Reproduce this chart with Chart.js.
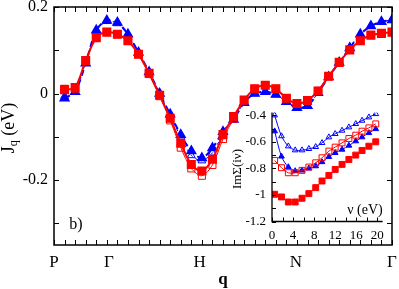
<!DOCTYPE html>
<html>
<head>
<meta charset="utf-8">
<script src="https://cdn.jsdelivr.net/npm/chart.js@4.4.1/dist/chart.umd.min.js"></script>
<style>
  html, body { margin: 0; padding: 0; background: #fff; }
  #caja { position: relative; width: 399px; height: 289px; }
  #caja canvas { position: absolute; left: 0; top: 0; }
</style>
</head>
<body>
<div id="caja">
  <canvas id="graficoPrincipal" width="399" height="289"></canvas>
  <canvas id="graficoInset" width="399" height="289"></canvas>
</div>
<script>
// Datos del panel principal: J_q a lo largo del camino P-Γ-H-N-Γ
const qPos = [1, 2, 3, 4, 5, 6, 7, 8, 9, 10, 11, 12, 13, 14, 15, 16,
              17, 18, 19, 20, 21, 22, 23, 24, 25, 26, 27, 28, 29, 30, 31, 32];
const jRojoLleno = [0.009, 0.014, 0.076, 0.129, 0.142, 0.137, 0.122, 0.091, 0.047, -0.004, -0.057, -0.115,
                    -0.164, -0.179, -0.152, -0.095, -0.053, -0.015, 0.011, 0.019, 0.011, -0.011, -0.023, -0.016,
                    0.006, 0.040, 0.072, 0.101, 0.122, 0.135, 0.139, 0.142];
const jRojoAbierto = [0.011, 0.011, 0.076, 0.129, 0.142, 0.137, 0.122, 0.091, 0.045, -0.006, -0.062, -0.125,
                      -0.173, -0.190, -0.165, -0.105, -0.058, -0.016, 0.011, 0.019, 0.011, -0.011, -0.023, -0.016,
                      0.006, 0.040, 0.072, 0.101, 0.122, 0.135, 0.139, 0.142];
const jAzulLleno = [-0.011, 0.004, 0.070, 0.146, 0.169, 0.164, 0.137, 0.095, 0.050, 0.000, -0.048, -0.095,
                    -0.133, -0.149, -0.126, -0.088, -0.060, -0.021, 0.000, 0.004, -0.002, -0.019, -0.033, -0.028,
                    0.002, 0.038, 0.072, 0.105, 0.137, 0.156, 0.166, 0.170];
const jAzulAbierto = [-0.006, 0.006, 0.072, 0.144, 0.167, 0.162, 0.136, 0.095, 0.050, 0.000, -0.050, -0.100,
                      -0.143, -0.155, -0.137, -0.093, -0.060, -0.021, 0.000, 0.004, -0.002, -0.019, -0.033, -0.028,
                      0.002, 0.038, 0.072, 0.107, 0.137, 0.156, 0.166, 0.170];
const qEtiquetas = ['P', 'Γ', 'H', 'N', 'Γ'];
const qEtiquetasPos = [0, 5.2, 13.8, 22.9, 32];
const jTicks = [-0.2, 0, 0.2];

// Datos del recuadro: ImΣ(iν) frente a ν
const nu = [0.5, 1.8, 3.1, 4.4, 5.7, 7.0, 8.3, 9.5, 10.8, 12.0, 13.3, 14.6, 15.9, 17.1, 18.4, 19.7];
const imRojoLleno = [-0.995, -1.015, -1.053, -1.053, -1.025, -0.990, -0.945, -0.895,
                     -0.853, -0.808, -0.770, -0.733, -0.700, -0.665, -0.633, -0.600];
const imRojoAbierto = [-0.740, -0.795, -0.833, -0.833, -0.815, -0.790, -0.758, -0.720,
                       -0.670, -0.640, -0.608, -0.575, -0.550, -0.520, -0.495, -0.465];
const imAzulLleno = [-0.520, -0.710, -0.790, -0.820, -0.815, -0.800, -0.783, -0.752,
                     -0.713, -0.683, -0.658, -0.628, -0.595, -0.565, -0.533, -0.503];
const imAzulAbierto = [-0.400, -0.557, -0.633, -0.663, -0.663, -0.653, -0.638, -0.608,
                       -0.565, -0.540, -0.515, -0.490, -0.465, -0.440, -0.415, -0.390];
const nuTicks = [0, 4, 8, 12, 16, 20];
const imTicks = [-1.2, -1, -0.8, -0.6, -0.4];

const fuente = "'Liberation Serif', 'DejaVu Serif', serif";
const ROJO = 'rgb(255, 0, 0)';
const AZUL = 'rgb(0, 0, 255)';
const VACIO = 'rgba(0, 0, 0, 0)';

const puntos = (xs, ys) => xs.map((x, i) => ({ x: x, y: ys[i] }));

// Marco con marcas hacia dentro y textos sueltos
const marcoPlugin = {
    id: 'marco',
    afterDraw(chart, args, o) {
        const ctx = chart.ctx;
        const a = chart.chartArea;
        const sx = chart.scales.x, sy = chart.scales.y;
        ctx.save();
        ctx.strokeStyle = '#000';
        ctx.lineWidth = o.grosor;
        ctx.beginPath();
        ctx.moveTo(a.left, a.top);
        ctx.lineTo(a.left, a.bottom);
        ctx.lineTo(a.right, a.bottom);
        if (o.cerrado) {
            ctx.lineTo(a.right, a.top);
            ctx.closePath();
        }
        ctx.stroke();
        ctx.lineWidth = 1;
        ctx.beginPath();
        for (let v = sx.min; v <= o.xHasta + 1e-6; v += o.xPaso) {
            const px = Math.round(sx.getPixelForValue(v)) + 0.5;
            ctx.moveTo(px, a.bottom); ctx.lineTo(px, a.bottom - o.largo);
            if (o.cerrado) { ctx.moveTo(px, a.top); ctx.lineTo(px, a.top + o.largo); }
        }
        for (let v = o.yDesde; v <= sy.max + 1e-6; v += o.yPaso) {
            const py = Math.round(sy.getPixelForValue(v)) + 0.5;
            ctx.moveTo(a.left, py); ctx.lineTo(a.left + o.largo, py);
            if (o.cerrado) { ctx.moveTo(a.right, py); ctx.lineTo(a.right - o.largo, py); }
        }
        ctx.stroke();
        ctx.fillStyle = '#000';
        for (const t of o.textos) {
            ctx.save();
            ctx.translate(t.x, t.y);
            if (t.rot) ctx.rotate(t.rot);
            ctx.textBaseline = 'middle';
            let ancho = 0;
            for (const p of t.partes) {
                ctx.font = (p.negrita ? 'bold ' : '') + p.tam + 'px ' + fuente;
                ancho += ctx.measureText(p.txt).width;
            }
            let cx = -ancho / 2;
            for (const p of t.partes) {
                ctx.font = (p.negrita ? 'bold ' : '') + p.tam + 'px ' + fuente;
                ctx.textAlign = 'left';
                ctx.fillText(p.txt, cx, p.dy || 0);
                cx += ctx.measureText(p.txt).width;
            }
            ctx.restore();
        }
        ctx.restore();
    }
};

// Gráfico principal
new Chart(document.getElementById('graficoPrincipal').getContext('2d'), {
    type: 'line',
    data: {
        datasets: [
            { data: puntos(qPos, jRojoLleno), borderColor: ROJO, backgroundColor: ROJO, borderWidth: 2,
              pointStyle: 'rect', pointRadius: 5, pointBackgroundColor: ROJO, pointBorderColor: ROJO, tension: 0.3 },
            { data: puntos(qPos, jRojoAbierto), borderColor: ROJO, borderWidth: 1,
              pointStyle: 'rect', pointRadius: 5, pointBackgroundColor: VACIO, pointBorderColor: ROJO,
              pointBorderWidth: 1, tension: 0.3 },
            { data: puntos(qPos, jAzulLleno), borderColor: AZUL, borderWidth: 2, borderDash: [6, 4],
              pointStyle: 'triangle', pointRadius: 4.5, pointBackgroundColor: AZUL, pointBorderColor: AZUL, tension: 0.3 },
            { data: puntos(qPos, jAzulAbierto), borderColor: AZUL, borderWidth: 1, borderDash: [3, 3],
              pointStyle: 'triangle', pointRadius: 4.5, pointBackgroundColor: VACIO, pointBorderColor: AZUL,
              pointBorderWidth: 1, tension: 0.3 }
        ]
    },
    options: {
        responsive: false,
        animation: false,
        events: [],
        layout: { padding: { left: 0, right: 6, top: 5, bottom: 0 } },
        plugins: {
            legend: { display: false },
            tooltip: { enabled: false },
            marco: {
                grosor: 1.5, cerrado: true, largo: 5,
                xPaso: 1, xHasta: 32, yDesde: -0.3, yPaso: 0.1,
                textos: [
                    { x: 9, y: 128, rot: -Math.PI / 2, partes: [
                        { txt: 'J', tam: 18 }, { txt: 'q', tam: 12, dy: 5 }, { txt: ' (eV)', tam: 18 }] },
                    { x: 76, y: 225, partes: [{ txt: 'b)', tam: 16 }] },
                    { x: 223, y: 280, partes: [{ txt: 'q', tam: 17, negrita: true }] }
                ]
            }
        },
        scales: {
            x: {
                type: 'linear', min: 0, max: 32,
                grid: { display: false, drawTicks: false }, border: { display: false },
                afterBuildTicks: s => { s.ticks = qEtiquetasPos.map(v => ({ value: v })); },
                afterFit: s => { s.height = 44; s.paddingLeft = 0; s.paddingRight = 0; },
                ticks: { autoSkip: false, maxRotation: 0, padding: 7, color: '#000',
                         font: { family: fuente, size: 17 },
                         callback: (v, i) => qEtiquetas[i] }
            },
            y: {
                type: 'linear', min: -0.35, max: 0.2,
                grid: { display: false, drawTicks: false }, border: { display: false },
                afterBuildTicks: s => { s.ticks = jTicks.map(v => ({ value: v })); },
                afterFit: s => { s.width = 54; s.paddingTop = 0; s.paddingBottom = 0; },
                ticks: { padding: 6, color: '#000', font: { family: fuente, size: 16 },
                         callback: v => (Math.abs(v) < 1e-9 ? '0' : String(Math.round(v * 10) / 10)) }
            }
        }
    },
    plugins: [marcoPlugin]
});

// Recuadro: ImΣ(iν)
new Chart(document.getElementById('graficoInset').getContext('2d'), {
    type: 'line',
    data: {
        datasets: [
            { data: puntos(nu, imRojoLleno), borderColor: ROJO, borderWidth: 1,
              pointStyle: 'rect', pointRadius: 4.2, pointBackgroundColor: ROJO, pointBorderColor: ROJO },
            { data: puntos(nu, imRojoAbierto), borderColor: ROJO, borderWidth: 1,
              pointStyle: 'rect', pointRadius: 4.2, pointBackgroundColor: VACIO, pointBorderColor: ROJO, pointBorderWidth: 1 },
            { data: puntos(nu, imAzulLleno), borderColor: AZUL, borderWidth: 1,
              pointStyle: 'triangle', pointRadius: 3.3, pointBackgroundColor: AZUL, pointBorderColor: AZUL },
            { data: puntos(nu, imAzulAbierto), borderColor: AZUL, borderWidth: 1,
              pointStyle: 'triangle', pointRadius: 3.3, pointBackgroundColor: VACIO, pointBorderColor: AZUL, pointBorderWidth: 1 }
        ]
    },
    options: {
        responsive: false,
        animation: false,
        events: [],
        layout: { padding: { left: 220, right: 16.4, top: 112.6, bottom: 0 } },
        elements: { line: { tension: 0.3 } },
        plugins: {
            legend: { display: false },
            tooltip: { enabled: false },
            marco: {
                grosor: 1.3, cerrado: false, largo: 4,
                xPaso: 2, xHasta: 20, yDesde: -1.2, yPaso: 0.1,
                textos: [
                    { x: 237.5, y: 169, rot: -Math.PI / 2, partes: [{ txt: 'ImΣ(iν)', tam: 13 }] },
                    { x: 365, y: 210, partes: [{ txt: 'ν (eV)', tam: 14 }] }
                ]
            }
        },
        scales: {
            x: {
                type: 'linear', min: 0, max: 21,
                grid: { display: false, drawTicks: false }, border: { display: false },
                afterBuildTicks: s => { s.ticks = nuTicks.map(v => ({ value: v })); },
                afterFit: s => { s.height = 67.5; s.paddingLeft = 0; s.paddingRight = 0; },
                ticks: { autoSkip: false, maxRotation: 0, padding: 6, color: '#000',
                         font: { family: fuente, size: 13 } }
            },
            y: {
                type: 'linear', min: -1.2, max: -0.38,
                grid: { display: false, drawTicks: false }, border: { display: false },
                afterBuildTicks: s => { s.ticks = imTicks.map(v => ({ value: v })); },
                afterFit: s => { s.width = 52; s.paddingTop = 0; s.paddingBottom = 0; },
                ticks: { padding: 6, color: '#000', font: { family: fuente, size: 13 },
                         callback: v => String(Math.round(v * 10) / 10) }
            }
        }
    },
    plugins: [marcoPlugin]
});
</script>
</body>
</html>
